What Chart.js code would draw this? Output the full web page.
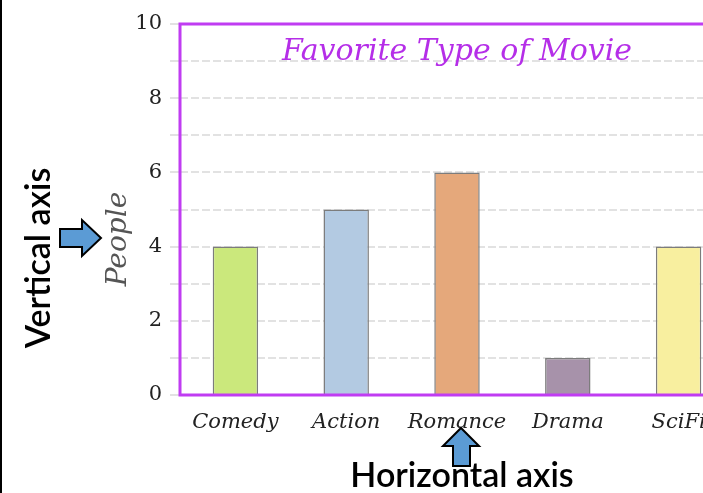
<!DOCTYPE html>
<html>
<head>
<meta charset="utf-8">
<script src="https://cdn.jsdelivr.net/npm/chart.js@4/dist/chart.umd.min.js"></script>
<style>
  html, body { margin: 0; padding: 0; background: #fff; overflow: hidden; }
  #wrap { position: relative; width: 703px; height: 493px; overflow: hidden; border-left: 2px solid #000; box-sizing: border-box; }
  #mycanvas { position: absolute; left: -2px; top: 0; }
</style>
</head>
<body>
<div id="wrap"><canvas id="mycanvas" width="734" height="493"></canvas></div>
<script>
var movies = ['Comedy', 'Action', 'Romance', 'Drama', 'SciFi'];
var people = [4, 5, 6, 1, 4];
var barColors = ['#cbe87c', '#b3cae2', '#e5a87b', '#a792aa', '#f8ef9f'];
var yTicks = [0, 2, 4, 6, 8, 10];

var purple = '#c03cf2';
var serif = '"DejaVu Serif", "Liberation Serif", serif';

// border, title, axis title and the two callouts
var extras = {
	id: 'extras',
	afterDatasetsDraw: function(chart) {
		var ctx = chart.ctx;
		var a = chart.chartArea;
		ctx.save();
		ctx.strokeStyle = purple;
		ctx.lineWidth = 3;
		ctx.strokeRect(a.left, a.top, a.right - a.left + 10, a.bottom - a.top);
		ctx.fillStyle = '#b52ee8';
		ctx.font = 'italic 30px ' + serif;
		ctx.textAlign = 'center';
		ctx.textBaseline = 'middle';
		ctx.fillText('Favorite Type of Movie', (a.left + a.right) / 2, a.top + 28);
		// y axis title
		ctx.fillStyle = '#555';
		ctx.font = 'italic 28px ' + serif;
		ctx.translate(119, 239);
		ctx.rotate(-Math.PI / 2);
		ctx.fillText('People', 0, 0);
		ctx.restore();
	},
	afterDraw: function(chart) {
		var ctx = chart.ctx;
		ctx.save();
		ctx.fillStyle = '#000';
		ctx.font = '600 34px Lato, "DejaVu Sans", sans-serif';
		ctx.textAlign = 'center';
		ctx.textBaseline = 'middle';
		ctx.save();
		ctx.translate(39, 258);
		ctx.rotate(-Math.PI / 2);
		ctx.fillText('Vertical axis', 0, 0);
		ctx.restore();
		ctx.fillText('Horizontal axis', 462, 476);

		ctx.fillStyle = '#5b9bd5';
		ctx.strokeStyle = '#000';
		ctx.lineWidth = 2;
		// right arrow
		ctx.beginPath();
		ctx.moveTo(60, 229); ctx.lineTo(82, 229); ctx.lineTo(82, 220);
		ctx.lineTo(101, 238); ctx.lineTo(82, 256); ctx.lineTo(82, 247);
		ctx.lineTo(60, 247); ctx.closePath();
		ctx.fill(); ctx.stroke();
		// up arrow
		ctx.beginPath();
		ctx.moveTo(453, 466); ctx.lineTo(453, 446); ctx.lineTo(443, 446);
		ctx.lineTo(461, 428); ctx.lineTo(479, 446); ctx.lineTo(470, 446);
		ctx.lineTo(470, 466); ctx.closePath();
		ctx.fill(); ctx.stroke();
		ctx.restore();
	}
};

var chartData = {
	labels: movies,
	datasets: [
		{
			label: 'People',
			data: people,
			backgroundColor: barColors,
			borderColor: '#7c7c7c',
			borderWidth: 1.5,
			barPercentage: 0.41,
			categoryPercentage: 1
		}
	]
};

var ctx = document.getElementById('mycanvas');

var barGraph = new Chart(ctx, {
	type: 'bar',
	data: chartData,
	options: {
		responsive: false,
		animation: false,
		layout: { padding: { top: 24, left: 0, right: 0, bottom: 0 } },
		plugins: {
			legend: { display: false },
			tooltip: { enabled: false }
		},
		scales: {
			x: {
				grid: { display: false },
				border: { display: false },
				ticks: { color: '#222', font: { family: serif, style: 'italic', size: 21 }, padding: 7, maxRotation: 0 },
				afterFit: function(scale) { scale.height = 98; }
			},
			y: {
				min: 0,
				max: 10,
				ticks: {
					stepSize: 1,
					color: '#222',
					padding: 8,
					font: { family: serif, size: 21 },
					callback: function(v) { return yTicks.indexOf(v) >= 0 ? v : ''; }
				},
				grid: { color: '#e2e2e2', lineWidth: 2, tickLength: 10 },
				border: { display: false, dash: [8, 3] },
				afterFit: function(scale) { scale.width = 180; }
			}
		}
	},
	plugins: [extras]
});
</script>
</body>
</html>
